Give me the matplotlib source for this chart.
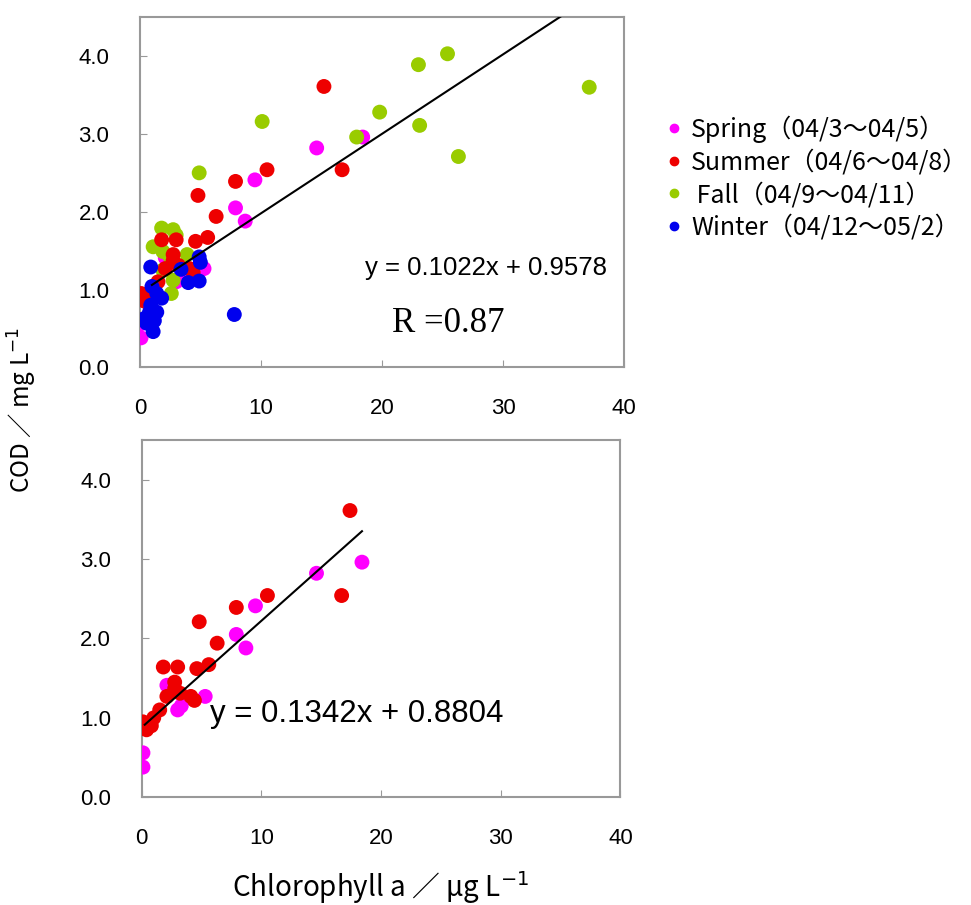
import numpy as np
import matplotlib.pyplot as plt

# Chlorophyll a (ug/L) vs COD (mg/L)
spring_x = [0.1, 0.1, 2.1, 3.0, 3.3, 5.3, 7.9, 8.7, 9.5, 14.6, 18.4]
spring_y = [0.38, 0.56, 1.41, 1.10, 1.15, 1.27, 2.05, 1.88, 2.41, 2.82, 2.96]

summer_x = [0.1, 0.4, 0.8, 1.0, 1.5, 2.1, 2.75, 2.75, 3.2, 4.1, 4.4, 1.8, 3.0,
            4.6, 5.6, 6.3, 4.8, 7.9, 10.5, 16.7, 15.2]
summer_y = [0.95, 0.85, 0.90, 1.00, 1.10, 1.27, 1.45, 1.37, 1.31, 1.27, 1.22, 1.64, 1.64,
            1.62, 1.67, 1.94, 2.21, 2.39, 2.54, 2.54, 3.61]
# lower panel shows the top summer point further right
summer_x_low = summer_x[:-1] + [17.4]

fall_x = [1.1, 1.8, 1.9, 1.9, 2.5, 2.6, 2.75, 2.75, 3.0, 3.9, 4.9, 10.1, 17.9,
          19.8, 23.0, 23.1, 25.4, 26.3, 37.1]
fall_y = [1.55, 1.79, 1.49, 1.25, 1.42, 0.95, 1.77, 1.12, 1.70, 1.45, 2.50, 3.16, 2.96,
          3.28, 3.89, 3.11, 4.03, 2.71, 3.60]

winter_x = [0.4, 0.55, 0.8, 0.9, 1.0, 1.1, 1.4, 1.4, 1.8, 3.4, 4.0, 4.9, 4.9, 5.0,
            7.8, 0.9, 1.2]
winter_y = [0.63, 0.57, 0.71, 1.29, 1.04, 0.46, 0.95, 0.71, 0.89, 1.26, 1.09, 1.11,
            1.42, 1.35, 0.68, 0.80, 0.60]

labels = ["Spring（04/3～04/5）", "Summer（04/6～04/8）",
          " Fall（04/9～04/11）", "Winter（04/12～05/2）"]
colors = ["#FF00FF", "#EE0000", "#99CC00", "#0000EE"]

# trendlines as printed on the chart
fit_all = (0.1022, 0.9578)
fit_sp_su = (0.1342, 0.8804)

cjk = ["Noto Sans CJK JP", "DejaVu Sans"]
sans = "Liberation Sans"

fig = plt.figure(figsize=(9.71, 9.05), dpi=100)
ax1 = fig.add_axes([0.144, 0.594, 0.499, 0.387])
ax2 = fig.add_axes([0.146, 0.119, 0.493, 0.395])


def style(ax):
    ax.set_xlim(0, 40)
    ax.set_ylim(0, 4.5)
    ax.set_xticks([0, 10, 20, 30, 40])
    ax.set_yticks([0, 1, 2, 3, 4])
    ax.set_yticklabels(["0.0", "1.0", "2.0", "3.0", "4.0"])
    ax.tick_params(direction="in", length=5, color="#999999", pad=22,
                   labelsize=16)
    for lab in ax.get_xticklabels() + ax.get_yticklabels():
        lab.set_family(sans)
    for sp in ax.spines.values():
        sp.set_color("#999999")
        sp.set_linewidth(1.5)


sets = [(spring_x, spring_y), (fall_x, fall_y), (summer_x, summer_y), (winter_x, winter_y)]
cols = [colors[0], colors[2], colors[1], colors[3]]
for (xs, ys), c in zip(sets, cols):
    ax1.scatter(xs, ys, s=115, color=c, edgecolors="none", zorder=3)

xl = np.array([1.0, 37.0])
ax1.plot(xl, fit_all[0] * xl + fit_all[1], color="black", lw=1.5, zorder=4)
ax1.text(0.465, 0.283, "y = 0.1022x + 0.9578", transform=ax1.transAxes,
         family=sans, fontsize=18.5, va="center")
ax1.text(0.52, 0.126, "R =0.87", transform=ax1.transAxes,
         family="Liberation Serif", fontsize=25, va="center")
style(ax1)

ax2.scatter(spring_x, spring_y, s=115, color=colors[0], edgecolors="none", zorder=3)
ax2.scatter(summer_x_low, summer_y, s=115, color=colors[1], edgecolors="none", zorder=3)
xb = np.array([min(spring_x + summer_x_low) + 0.15, max(spring_x + summer_x_low)])
ax2.plot(xb, fit_sp_su[0] * xb + fit_sp_su[1], color="black", lw=1.5, zorder=4)
ax2.text(0.142, 0.232, "y = 0.1342x + 0.8804", transform=ax2.transAxes,
         family=sans, fontsize=22.5, va="center")
style(ax2)

# legend to the right of the upper panel
handles = [plt.Line2D([], [], marker="o", ls="none", color=c, markersize=6)
           for c in colors]
fig.legend(handles, labels, loc="upper left", bbox_to_anchor=(0.655, 0.897),
           frameon=False, handlelength=1.25, handletextpad=0.05, labelspacing=0.26,
           prop={"family": cjk, "size": 18})

fig.text(22 / 971, 1 - 410 / 905, "COD ／ mg L$^{-1}$", rotation=90,
         family=cjk, fontsize=17.5, ha="center", va="center")
fig.text(380 / 971, 1 - 888 / 905, "Chlorophyll a ／ μg L$^{-1}$",
         family=cjk, fontsize=20, ha="center", va="center")

fig.savefig("out.png", dpi=100)
